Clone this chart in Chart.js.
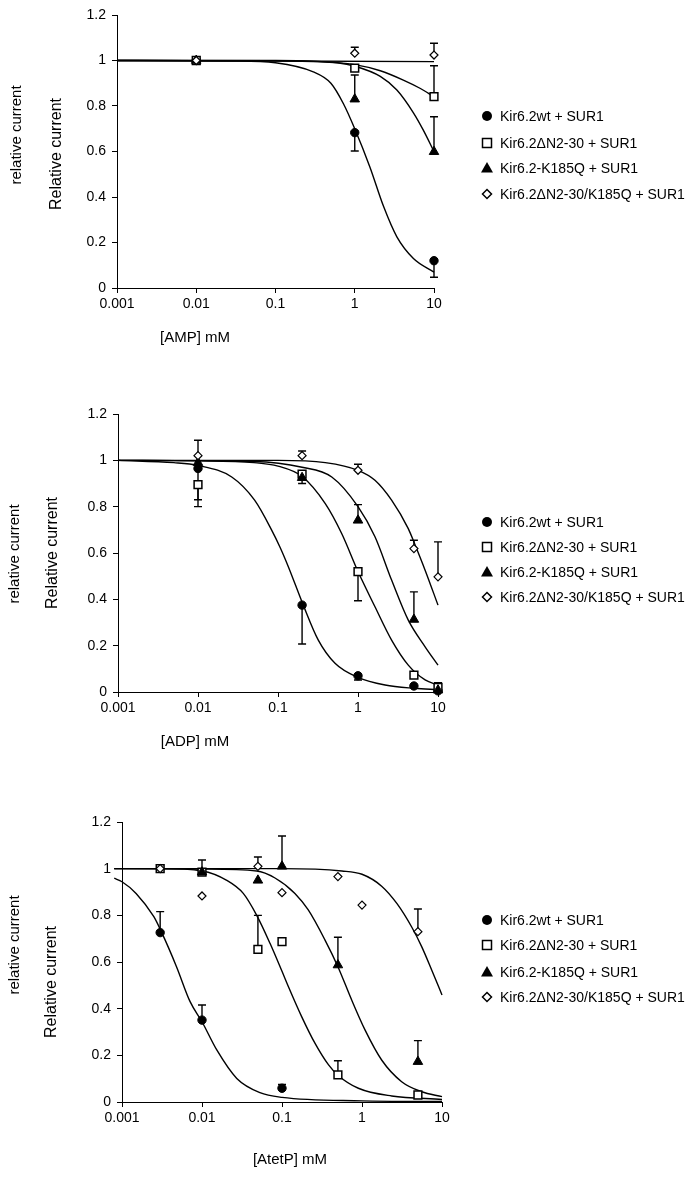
<!DOCTYPE html>
<html>
<head>
<meta charset="utf-8">
<script src="https://cdn.jsdelivr.net/npm/chart.js@4.4.0/dist/chart.umd.min.js"></script>
<style>
  body { margin: 0; background: #fff; }
  canvas { display: block; }
</style>
</head>
<body>
<canvas id="ampChart" width="695" height="380"></canvas>
<canvas id="adpChart" width="695" height="400"></canvas>
<canvas id="atetpChart" width="695" height="397"></canvas>
<script>
// series names + axis ticks
const seriesNames = ['Kir6.2wt + SUR1', 'Kir6.2ΔN2-30 + SUR1', 'Kir6.2-K185Q + SUR1', 'Kir6.2ΔN2-30/K185Q + SUR1'];
const xTicks = [0.001, 0.01, 0.1, 1, 10];
const xTickLabels = ['0.001', '0.01', '0.1', '1', '10'];
const yTicks = [0, 0.2, 0.4, 0.6, 0.8, 1, 1.2];
const yTickLabels = ['0', '0.2', '0.4', '0.6', '0.8', '1', '1.2'];

// ---- AMP: measured points (err = end of the one-sided error bar)
const ampConc = [0.01, 1, 10];
const ampWt = [1.0, 0.683, 0.12];
const ampWtErr = [null, 0.602, 0.047];
const ampDN = [1.0, 0.966, 0.841];
const ampDNErr = [null, null, 0.977];
const ampKQ = [1.0, 0.83, 0.599];
const ampKQErr = [null, 0.936, 0.753];
const ampDNKQ = [1.0, 1.032, 1.024];
const ampDNKQErr = [null, 1.058, 1.076];
// AMP fitted curves
const ampFitWtX = [0.001, 0.03, 0.1, 0.3, 0.5, 0.72, 1, 1.56, 2.3, 3.4, 5.5, 10];
const ampFitWtY = [1, 0.998, 0.99, 0.95, 0.9, 0.81, 0.7, 0.53, 0.36, 0.225, 0.13, 0.07];
const ampFitDNX = [0.001, 0.1, 0.3, 1, 2.1, 4.1, 6.65, 10];
const ampFitDNY = [1, 1, 0.997, 0.982, 0.955, 0.914, 0.878, 0.84];
const ampFitKQX = [0.001, 0.1, 0.3, 0.6, 1, 2.1, 3.4, 5.5, 7.3, 10];
const ampFitKQY = [1, 0.999, 0.995, 0.99, 0.975, 0.93, 0.87, 0.77, 0.695, 0.6];
const ampFitDNKQX = [0.001, 10];
const ampFitDNKQY = [1, 0.995];

// ---- ADP: measured points
const adpConc = [0.01, 0.2, 1, 5, 10];
const adpWt = [0.965, 0.375, 0.07, 0.026, 0.005];
const adpWtErr = [0.83, 0.207, 0.052, null, null];
const adpDN = [0.895, 0.94, 0.52, 0.073, 0.02];
const adpDNErr = [0.8, 0.9, 0.394, null, 0.04];
const adpKQ = [0.99, 0.925, 0.741, 0.313, 0.008];
const adpKQErr = [null, null, 0.809, 0.432, null];
const adpDNKQ = [1.02, 1.02, 0.957, 0.619, 0.497];
const adpDNKQErr = [1.087, 1.04, 0.983, 0.655, 0.648];
// ADP fitted curves
const adpFitWtX = [0.001, 0.005, 0.01, 0.0264, 0.051, 0.083, 0.106, 0.135, 0.207, 0.319, 0.516, 1, 2.18, 5.1, 10];
const adpFitWtY = [1, 0.99, 0.978, 0.928, 0.828, 0.70, 0.625, 0.54, 0.375, 0.224, 0.124, 0.063, 0.03, 0.016, 0.01];
const adpFitDNX = [0.001, 0.01, 0.05, 0.1, 0.2, 0.39, 0.625, 1, 1.63, 2.63, 4.25, 6.9, 10];
const adpFitDNY = [1, 0.998, 0.99, 0.975, 0.93, 0.813, 0.684, 0.52, 0.368, 0.224, 0.116, 0.052, 0.03];
const adpFitKQX = [0.001, 0.05, 0.2, 0.47, 1, 1.63, 2.63, 4.25, 6.9, 10];
const adpFitKQY = [1, 0.995, 0.97, 0.928, 0.8, 0.67, 0.483, 0.31, 0.195, 0.116];
const adpFitDNKQX = [0.001, 0.1, 0.39, 1, 1.63, 2.63, 4.25, 5.1, 6.9, 10];
const adpFitDNKQY = [1, 1, 0.99, 0.957, 0.914, 0.828, 0.705, 0.64, 0.526, 0.375];

// ---- AtetP: measured points
const atpWtConc = [0.003, 0.01, 0.1];
const atpWt = [0.726, 0.351, 0.059];
const atpWtErr = [0.816, 0.416, 0.075];
const atpDNConc = [0.003, 0.01, 0.05, 0.1, 0.5, 5];
const atpDN = [1.0, 0.985, 0.654, 0.687, 0.116, 0.03];
const atpDNErr = [null, null, 0.8, null, 0.177, null];
const atpKQConc = [0.01, 0.05, 0.1, 0.5, 5];
const atpKQ = [0.985, 0.95, 1.01, 0.587, 0.173];
const atpKQErr = [1.037, null, 1.14, 0.706, 0.263];
const atpDNKQConc = [0.003, 0.01, 0.05, 0.1, 0.5, 1, 5];
const atpDNKQ = [1.0, 0.883, 1.01, 0.897, 0.966, 0.844, 0.73];
const atpDNKQErr = [null, null, 1.05, null, null, null, 0.827];
// AtetP fitted curves
const atpFitWtX = [0.0008, 0.001, 0.0015, 0.0025, 0.0031, 0.0048, 0.0071, 0.01, 0.0153, 0.0272, 0.053, 0.1, 1, 10];
const atpFitWtY = [0.959, 0.944, 0.894, 0.794, 0.73, 0.58, 0.43, 0.344, 0.223, 0.101, 0.04, 0.02, 0.005, 0.002];
const atpFitDNX = [0.0008, 0.003, 0.01, 0.0204, 0.0328, 0.0483, 0.0708, 0.1, 0.12, 0.176, 0.259, 0.38, 0.5, 0.9, 2.35, 10];
const atpFitDNY = [1, 1, 0.99, 0.95, 0.894, 0.8, 0.68, 0.56, 0.495, 0.366, 0.251, 0.16, 0.115, 0.059, 0.026, 0.011];
const atpFitKQX = [0.0008, 0.01, 0.0483, 0.0818, 0.145, 0.213, 0.345, 0.5, 0.743, 1.09, 1.76, 3.13, 5.57, 10];
const atpFitKQY = [1, 0.998, 0.99, 0.96, 0.894, 0.823, 0.694, 0.58, 0.437, 0.309, 0.18, 0.087, 0.044, 0.023];
const atpFitDNKQX = [0.0008, 0.1, 0.56, 1, 1.76, 2.74, 4.18, 5.57, 7.43, 10];
const atpFitDNKQY = [1, 1, 0.99, 0.976, 0.925, 0.85, 0.75, 0.666, 0.566, 0.459];

Chart.defaults.font.family = '"Liberation Sans", Arial, sans-serif';
Chart.defaults.color = '#000';

// marker look for the 4 constructs
const mStyle = ['circle', 'rect', 'triangle', 'rectRot'];
const mRadius = [4.2, 5.5, 5.5, 4];
const mFill = ['#000', '#fff', '#000', '#fff'];
const mBorder = [1, 1.5, 1, 1.2];

const pairs = (xs, ys) => xs.map((x, i) => ({ x: x, y: ys[i] }));

function legendMarker(ctx, k, x, y) {
  ctx.save();
  ctx.fillStyle = mFill[k];
  ctx.strokeStyle = '#000';
  ctx.lineWidth = 1.5;
  ctx.beginPath();
  if (k === 0) ctx.arc(x, y, 5, 0, Math.PI * 2);
  if (k === 1) ctx.rect(x - 4.5, y - 4.5, 9, 9);
  if (k === 2) { ctx.moveTo(x, y - 6); ctx.lineTo(x + 6, y + 4.5); ctx.lineTo(x - 6, y + 4.5); ctx.closePath(); }
  if (k === 3) { ctx.moveTo(x, y - 4.5); ctx.lineTo(x + 4.5, y); ctx.lineTo(x, y + 4.5); ctx.lineTo(x - 4.5, y); ctx.closePath(); }
  ctx.fill();
  if (k === 1 || k === 3) ctx.stroke();
  ctx.restore();
}

function makePanel(id, points, fits, look) {
  const datasets = [];
  points.forEach((p, k) => {
    datasets.push({
      data: pairs(p[0], p[1]),
      err: p[2],
      showLine: false,
      pointStyle: mStyle[k],
      pointRadius: mRadius[k],
      backgroundColor: mFill[k],
      borderColor: '#000',
      borderWidth: mBorder[k],
      clip: false,
      order: 3 - k
    });
  });
  fits.forEach(f => {
    datasets.push({
      data: pairs(f[0], f[1]),
      showLine: true,
      pointRadius: 0,
      borderColor: '#000',
      borderWidth: 1.4,
      cubicInterpolationMode: 'monotone',
      clip: false,
      order: 10
    });
  });

  const errorBars = {
    id: 'errorBars',
    beforeDatasetsDraw(chart) {
      const ctx = chart.ctx, xs = chart.scales.x, ys = chart.scales.y;
      ctx.save();
      ctx.strokeStyle = '#000';
      ctx.lineWidth = 1.4;
      chart.data.datasets.forEach(ds => {
        if (!ds.err) return;
        ds.data.forEach((d, i) => {
          const e = ds.err[i];
          if (e == null) return;
          const px = xs.getPixelForValue(d.x);
          const y1 = ys.getPixelForValue(d.y), y2 = ys.getPixelForValue(e);
          ctx.beginPath();
          ctx.moveTo(px, y1); ctx.lineTo(px, y2);
          ctx.moveTo(px - 4, y2); ctx.lineTo(px + 4, y2);
          ctx.stroke();
        });
      });
      ctx.restore();
    }
  };

  const extras = {
    id: 'extras',
    afterDraw(chart) {
      const ctx = chart.ctx;
      ctx.save();
      ctx.fillStyle = '#000';
      ctx.textAlign = 'center';
      ctx.textBaseline = 'middle';
      look.texts.forEach(t => {
        ctx.save();
        ctx.font = t.size + 'px "Liberation Sans", Arial, sans-serif';
        ctx.translate(t.x, t.y);
        if (t.rot) ctx.rotate(-Math.PI / 2);
        ctx.fillText(t.text, 0, 0);
        ctx.restore();
      });
      ctx.font = '14px "Liberation Sans", Arial, sans-serif';
      ctx.textAlign = 'left';
      seriesNames.forEach((name, k) => {
        const y = look.legendRows[k];
        legendMarker(ctx, k, 487, y);
        ctx.fillText(name, 500, y + 1);
      });
      ctx.restore();
    }
  };

  new Chart(document.getElementById(id), {
    type: 'scatter',
    data: { datasets: datasets },
    options: {
      responsive: false,
      animation: false,
      devicePixelRatio: 1,
      events: [],
      layout: { padding: look.pad },
      plugins: { legend: { display: false }, tooltip: { enabled: false } },
      scales: {
        x: {
          type: 'logarithmic', min: 0.001, max: 10,
          afterBuildTicks: s => { s.ticks = xTicks.map(v => ({ value: v })); },
          afterFit: s => { s.height = 40; },
          ticks: { callback: (v, i) => xTickLabels[i], autoSkip: false, maxRotation: 0, padding: 3, font: { size: 14 } },
          grid: { drawOnChartArea: false, tickLength: 5, color: '#000' },
          border: { color: '#000', width: 1 }
        },
        y: {
          min: 0, max: 1.2,
          afterBuildTicks: s => { s.ticks = yTicks.map(v => ({ value: v })); },
          afterFit: s => { s.width = 60; },
          ticks: { callback: (v, i) => yTickLabels[i], padding: 6, font: { size: 14 } },
          grid: { drawOnChartArea: false, tickLength: 5, color: '#000' },
          border: { color: '#000', width: 1 }
        }
      }
    },
    plugins: [errorBars, extras]
  });
}

makePanel('ampChart',
  [[ampConc, ampWt, ampWtErr], [ampConc, ampDN, ampDNErr], [ampConc, ampKQ, ampKQErr], [ampConc, ampDNKQ, ampDNKQErr]],
  [[ampFitWtX, ampFitWtY], [ampFitDNX, ampFitDNY], [ampFitKQX, ampFitKQY], [ampFitDNKQX, ampFitDNKQY]],
  {
    pad: { left: 57, right: 261, top: 15, bottom: 52 },
    texts: [
      { text: 'relative current', x: 17, y: 135, size: 15, rot: true },
      { text: 'Relative current', x: 57, y: 154, size: 16, rot: true },
      { text: '[AMP] mM', x: 195, y: 338, size: 15 }
    ],
    legendRows: [116, 143, 168, 194]
  });

makePanel('adpChart',
  [[adpConc, adpWt, adpWtErr], [adpConc, adpDN, adpDNErr], [adpConc, adpKQ, adpKQErr], [adpConc, adpDNKQ, adpDNKQErr]],
  [[adpFitWtX, adpFitWtY], [adpFitDNX, adpFitDNY], [adpFitKQX, adpFitKQY], [adpFitDNKQX, adpFitDNKQY]],
  {
    pad: { left: 58, right: 257, top: 34, bottom: 48 },
    texts: [
      { text: 'relative current', x: 15, y: 174, size: 15, rot: true },
      { text: 'Relative current', x: 53, y: 173, size: 16, rot: true },
      { text: '[ADP] mM', x: 195, y: 362, size: 15 }
    ],
    legendRows: [142, 167, 192, 217]
  });

makePanel('atetpChart',
  [[atpWtConc, atpWt, atpWtErr], [atpDNConc, atpDN, atpDNErr], [atpKQConc, atpKQ, atpKQErr], [atpDNKQConc, atpDNKQ, atpDNKQErr]],
  [[atpFitWtX, atpFitWtY], [atpFitDNX, atpFitDNY], [atpFitKQX, atpFitKQY], [atpFitDNKQX, atpFitDNKQY]],
  {
    pad: { left: 62, right: 253, top: 42, bottom: 35 },
    texts: [
      { text: 'relative current', x: 15, y: 165, size: 15, rot: true },
      { text: 'Relative current', x: 52, y: 202, size: 16, rot: true },
      { text: '[AtetP] mM', x: 290, y: 380, size: 15 }
    ],
    legendRows: [140, 165, 192, 217]
  });
</script>
</body>
</html>
